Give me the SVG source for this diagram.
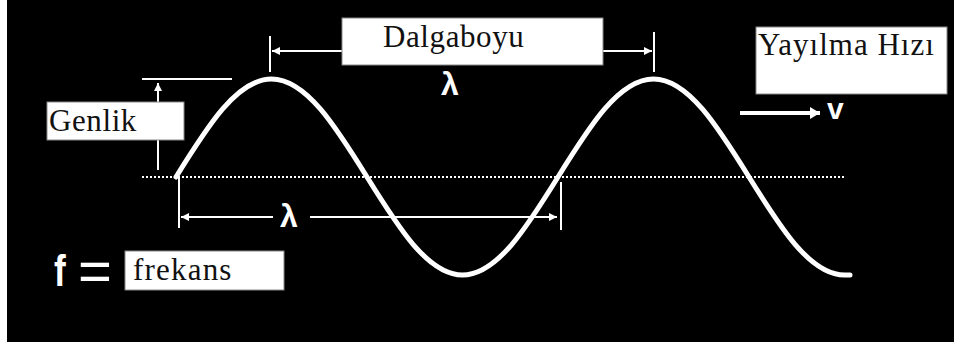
<svg xmlns="http://www.w3.org/2000/svg" width="954" height="344" viewBox="0 0 954 344">
  <style>
    .box { fill: #ffffff; stroke: #888888; stroke-width: 1; }
    .label { font-family: "Liberation Serif", "Times New Roman", serif; font-size: 31px; fill: #111111; letter-spacing: 0.6px; }
    .sym { font-family: "Liberation Sans", Arial, sans-serif; font-weight: bold; fill: #ffffff; }
    .dim { stroke: #ffffff; stroke-width: 2; fill: none; }
    .wave { stroke: #ffffff; stroke-width: 5; fill: none; stroke-linecap: round; stroke-linejoin: round; }
    .mid { stroke: #ffffff; stroke-width: 2; stroke-dasharray: 2 2; fill: none; }
  </style>
  <defs>
    <marker id="ah" viewBox="0 0 8 8" refX="8" refY="4" markerWidth="8" markerHeight="8" markerUnits="userSpaceOnUse" orient="auto">
      <path d="M0,0 L8,4 L0,8 z" fill="#ffffff"/>
    </marker>
    <marker id="ahBig" viewBox="0 0 10 12" refX="10" refY="6" markerWidth="10" markerHeight="12" markerUnits="userSpaceOnUse" orient="auto">
      <path d="M0,0 L10,6 L0,12 z" fill="#ffffff"/>
    </marker>
  </defs>

  <rect x="0" y="0" width="954" height="344" fill="#ffffff"/>
  <rect x="7" y="0" width="947" height="342" fill="#000000"/>

  <g id="connectors">
    <line class="mid" x1="142" y1="177" x2="846" y2="177"/>
    <!-- Dalgaboyu dimension -->
    <line class="dim" x1="270" y1="36" x2="270" y2="72"/>
    <line class="dim" x1="654" y1="32" x2="654" y2="72"/>
    <line class="dim" x1="460" y1="51" x2="272" y2="51" marker-end="url(#ah)"/>
    <line class="dim" x1="460" y1="51" x2="652" y2="51" marker-end="url(#ah)"/>
    <!-- Genlik dimension -->
    <line class="dim" x1="142" y1="79" x2="232" y2="79"/>
    <line class="dim" x1="158" y1="170" x2="158" y2="83" marker-end="url(#ah)"/>
    <!-- lower lambda dimension -->
    <line class="dim" x1="179" y1="177" x2="179" y2="228"/>
    <line class="dim" x1="561" y1="182" x2="561" y2="230"/>
    <line class="dim" x1="273" y1="217" x2="181" y2="217" marker-end="url(#ah)"/>
    <line class="dim" x1="310" y1="217" x2="557" y2="217" marker-end="url(#ah)"/>
    <!-- velocity arrow -->
    <line x1="740" y1="113" x2="820" y2="113" stroke="#ffffff" stroke-width="4" marker-end="url(#ahBig)"/>
  </g>

  <g id="wave">
    <path class="wave" d="M176,177 C207.15,126.8 236.94,79 271.5,79 C306.06,79 335.85,126.8 367,177 C398.15,227.2 427.94,275 462.5,275 C497.06,275 526.85,227.2 558,177 C589.15,126.8 618.94,79 653.5,79 C688.06,79 717.85,126.8 749,177 C780.15,227.2 809.94,275 844.5,275 L850,275"/>
  </g>

  <g id="dalgaboyu">
    <rect class="box" x="342" y="18" width="261" height="47"/>
    <text class="label" x="383" y="47">Dalgaboyu</text>
  </g>

  <g id="lambda-top">
    <text class="sym" x="441" y="95" font-size="32">λ</text>
  </g>

  <g id="genlik">
    <rect class="box" x="47" y="102" width="137" height="38"/>
    <text class="label" x="49" y="131">Genlik</text>
  </g>

  <g id="yayilma">
    <rect class="box" x="756" y="27" width="191" height="67"/>
    <text class="label" x="758" y="55" style="letter-spacing:1px">Yayılma Hızı</text>
  </g>

  <g id="velocity">
    <text class="sym" x="827" y="119" font-size="30">v</text>
  </g>

  <g id="lambda-bottom">
    <text class="sym" x="280" y="227" font-size="32">λ</text>
  </g>

  <g id="frequency">
    <text class="sym" x="54" y="286" font-size="44" transform="translate(54,0) scale(0.8,1) translate(-54,0)">f</text>
    <text x="78" y="291" font-family="Liberation Sans, Arial, sans-serif" font-size="58" fill="#ffffff">=</text>
    <rect class="box" x="125" y="251" width="159" height="39"/>
    <text class="label" x="133" y="280" style="letter-spacing:1.2px">frekans</text>
  </g>
</svg>
